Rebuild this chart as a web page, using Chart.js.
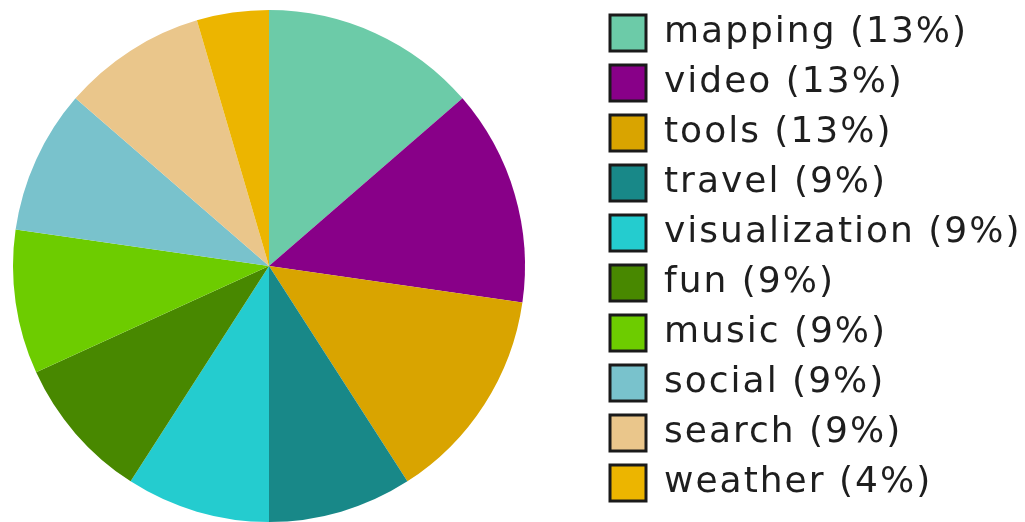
<!DOCTYPE html>
<html>
<head>
<meta charset="utf-8">
<script src="https://cdn.jsdelivr.net/npm/chart.js@4"></script>
<style>
    html, body { margin: 0; padding: 0; background: #fff; overflow: hidden; }
    /* canvas is a bit larger than the window so the pie sits where the original has it */
    #wrap { position: absolute; left: -58px; top: 0; width: 1083px; height: 531px; }
</style>
</head>
<body>
<div id="wrap"><canvas id="tagChart"></canvas></div>
<script>
const tagNames = ['mapping', 'video', 'tools', 'travel', 'visualization', 'fun', 'music', 'social', 'search', 'weather'];
const tagCounts = [3, 3, 3, 2, 2, 2, 2, 2, 2, 1];
const tagColors = ['#6ccba8', '#880088', '#d9a400', '#188888', '#24cccf', '#488800', '#6dcc00', '#79c2cc', '#eac68b', '#ecb500'];

const total = tagCounts.reduce((a, b) => a + b, 0);
const tagLabels = tagNames.map((n, i) => `${n} (${Math.floor(tagCounts[i] / total * 100)}%)`);

// legend text in the original is spaced out a little
const spacingPlugin = {
    id: 'spacing',
    beforeLayout: (chart) => { chart.ctx.letterSpacing = '2px'; },
    beforeDraw: (chart) => { chart.ctx.letterSpacing = '2px'; }
};

const ctx = document.getElementById('tagChart').getContext('2d');
const tagChart = new Chart(ctx, {
    type: 'pie',
    data: {
        labels: tagLabels,
        datasets: [{
            data: tagCounts,
            backgroundColor: tagColors,
            borderWidth: 0,
            radius: 256
        }]
    },
    options: {
        responsive: true,
        maintainAspectRatio: false,
        animation: false,
        layout: {
            padding: { top: 1, bottom: 0, left: 0, right: 0 }
        },
        plugins: {
            tooltip: { enabled: false },
            legend: {
                display: true,
                position: 'right',
                align: 'start',
                maxWidth: 429,
                labels: {
                    boxWidth: 36,
                    boxHeight: 36,
                    padding: 14,
                    color: '#1e1e1e',
                    font: { family: 'DejaVu Sans', size: 36 },
                    generateLabels: (chart) => tagLabels.map((t, i) => ({
                        text: t,
                        fillStyle: tagColors[i],
                        strokeStyle: '#1a1a1a',
                        lineWidth: 3,
                        fontColor: '#1e1e1e',
                        index: i
                    }))
                }
            }
        }
    },
    plugins: [spacingPlugin]
});
</script>
</body>
</html>
